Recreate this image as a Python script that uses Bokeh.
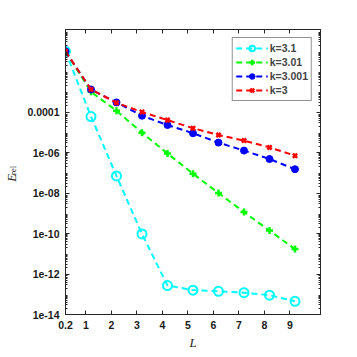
import numpy as np
from bokeh.plotting import figure
from bokeh.layouts import row
from bokeh.models import (Range1d, FixedTicker, LinearAxis, LogAxis, Legend, LegendItem,
                          CustomJSTickFormatter)
from bokeh.core.properties import value
from bokeh.embed import file_html
from bokeh.resources import INLINE

L = [0.2, 1.2, 2.2, 3.2, 4.2, 5.2, 6.2, 7.2, 8.2, 9.2]
k31 = [0.1, 6e-5, 7e-8, 9.5e-11, 2.7e-13, 1.6e-13, 1.4e-13, 1.2e-13, 9e-14, 4.5e-14]
k301 = [0.1, 1.0e-3, 1.15e-4, 9.5e-6, 9e-7, 9e-8, 1e-8, 1.15e-9, 1.4e-10, 1.7e-11]
k3001 = [0.1, 1.3e-3, 3e-4, 6.6e-5, 2.3e-5, 9e-6, 3.1e-6, 1.25e-6, 4.8e-7, 1.5e-7]
k3 = [0.1, 1.3e-3, 2.9e-4, 1e-4, 4e-5, 1.6e-5, 7.4e-6, 3.9e-6, 1.8e-6, 7e-7]
labels = ["k=3.1", "k=3.01", "k=3.001", "k=3"]

xticks = [0.2, 1, 2, 3, 4, 5, 6, 7, 8, 9]
yticks = [1e-14, 1e-12, 1e-10, 1e-8, 1e-6, 1e-4]

LW = 20           # narrow strip holding the y-axis title
W, H = 349, 352
p = figure(width=W - LW, height=H, y_axis_type="log", output_backend="svg", toolbar_location=None,
           x_range=Range1d(0.2, 10.2), y_range=Range1d(1e-14, 1.2),
           min_border_left=65 - LW, min_border_right=29, min_border_top=29, min_border_bottom=37)
p.grid.visible = False
p.outline_line_color = "#262626"
p.outline_line_width = 1
p.background_fill_color = "white"
p.border_fill_color = "white"

minor = []
for e in range(-14, 1):
    for m in range(2, 10):
        v = m * 10.0 ** e
        if v < 1.2:
            minor.append(v)
xt = FixedTicker(ticks=xticks, minor_ticks=[])
yt = FixedTicker(ticks=yticks, minor_ticks=minor)

xfmt = CustomJSTickFormatter(code="return (Math.abs(tick - 0.2) < 1e-9) ? '0.2' : tick.toFixed(0);")
yfmt = CustomJSTickFormatter(code="""
const e = Math.round(Math.log10(tick));
if (e == -4) return '0.0001';
return '1e-' + String(-e).padStart(2, '0');
""")
blank = CustomJSTickFormatter(code="return ' ';")

def style(ax):
    ax.axis_line_color = "#262626"
    ax.major_tick_line_color = "#262626"
    ax.minor_tick_line_color = "#262626"
    ax.major_tick_in = 4
    ax.major_tick_out = 0
    ax.minor_tick_in = 2
    ax.minor_tick_out = 0
    ax.major_label_text_font = "Liberation Sans"
    ax.major_label_text_font_style = "bold"
    ax.major_label_text_font_size = "10.5px"
    ax.major_label_text_color = "#1a1a1a"
    ax.major_label_standoff = 6

p.xaxis.ticker = xt
p.yaxis.ticker = yt
p.xaxis.formatter = xfmt
p.yaxis.formatter = yfmt
style(p.xaxis[0]); style(p.yaxis[0])
p.xaxis.axis_label = "L"
p.xaxis.axis_label_text_font = "Liberation Serif"
p.xaxis.axis_label_text_font_style = "italic"
p.xaxis.axis_label_text_font_size = "13px"
p.xaxis.axis_label_text_color = "#262626"
p.xaxis.axis_label_standoff = 3

top = LinearAxis(ticker=xt, formatter=blank)
right = LogAxis(ticker=yt, formatter=blank)
style(top); style(right)
top.major_label_standoff = 0; right.major_label_standoff = 0
top.major_label_text_font_size = "1px"; right.major_label_text_font_size = "1px"
p.add_layout(top, "above")
p.add_layout(right, "right")

colors = ["#00FFFF", "#00FF00", "#0000FF", "#FF0000"]
series = [k31, k301, k3001, k3]
items = []
for i, (ys, c, lab) in enumerate(zip(series, colors, labels)):
    ln = p.line(L, ys, line_color=c, line_width=2, line_dash="6 4")
    if i == 0:
        mk = p.scatter(L, ys, marker="circle", size=9, fill_color=None, line_color=c, line_width=2)
    elif i == 1:
        mk = p.scatter(L, ys, marker="cross", size=7, line_color=c, line_width=2.5)
    elif i == 2:
        mk = p.scatter(L, ys, marker="circle", size=7, fill_color=c, line_color=c)
    else:
        mk = p.scatter(L, ys, marker="x", size=6, line_color=c, line_width=2.5)
    items.append(LegendItem(label=lab, renderers=[ln, mk]))

leg = Legend(items=items, location="top_right", margin=8, padding=3, spacing=0,
             label_height=14, glyph_height=14, glyph_width=32, label_standoff=2,
             label_text_font="Liberation Sans", label_text_font_style="bold",
             label_text_font_size="10.5px", border_line_color="#262626", border_line_width=1,
             background_fill_alpha=1)
p.add_layout(leg)

# narrow strip for the y-axis title E_rel (pixel-like coordinates, y measured up from bottom)
q = figure(width=LW, height=H, x_range=Range1d(0, LW), y_range=Range1d(0, H),
           output_backend="svg", toolbar_location=None, x_axis_location=None, y_axis_location=None,
           min_border=0, min_border_left=0, min_border_right=0, min_border_top=0, min_border_bottom=0)
q.grid.visible = False
q.outline_line_color = None
q.border_fill_color = "white"
q.text(x=[11], y=[H - 183], text=["E"], angle=np.pi / 2, text_font=value("Liberation Serif"),
       text_font_style="italic", text_font_size="13px", text_align="center",
       text_baseline="middle", text_color="#262626")
q.text(x=[12.5], y=[H - 174], text=["rel"], angle=np.pi / 2, text_font=value("Liberation Serif"),
       text_font_size="9px", text_align="center", text_baseline="middle", text_color="#262626")

layout = row(q, p, spacing=0)
open("out.html", "w").write(file_html(layout, INLINE))
